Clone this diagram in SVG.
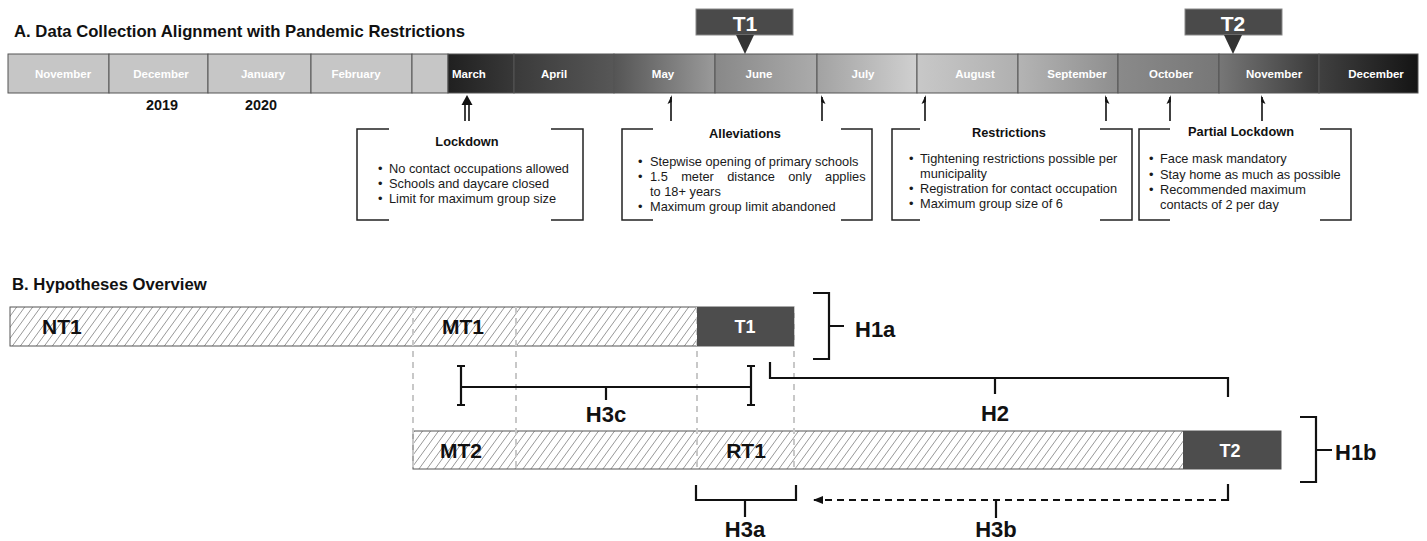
<svg xmlns="http://www.w3.org/2000/svg" width="1427" height="541" viewBox="0 0 1427 541">
<style>
text{font-family:"Liberation Sans",Arial,Helvetica,sans-serif;}
.h{font-size:16.7px;font-weight:bold;fill:#111}
.m{font-size:11.5px;font-weight:bold;fill:#fff;text-anchor:middle}
.yr{font-size:14.4px;font-weight:bold;fill:#111;text-anchor:middle}
.mk{font-size:21px;font-weight:bold;fill:#fff;text-anchor:middle}
.bt{font-size:12.8px;font-weight:bold;fill:#111;text-anchor:middle}
.b{font-size:12.8px;fill:#1a1a1a}
.lab{font-size:21px;font-weight:bold;fill:#111}
.hl{font-size:22px;font-weight:bold;fill:#111}
.wt{font-size:18px;font-weight:bold;fill:#fff;text-anchor:middle}
.c{text-anchor:middle}
.seg{stroke:#555;stroke-width:1}
.br{fill:none;stroke:#222;stroke-width:1.5}
.ar{stroke:#111;stroke-width:1.6;fill:none}
.k{fill:none;stroke:#111;stroke-width:2.2}
.dv{stroke:#c8c8c8;stroke-width:2;stroke-dasharray:6 5}
.mkbox{fill:#4a4a4a;stroke:#888;stroke-width:1}
.tri{fill:#333}
</style>
<defs>
<linearGradient id="gMar"><stop offset="0" stop-color="#202020"/><stop offset="1" stop-color="#383838"/></linearGradient>
<linearGradient id="gApr"><stop offset="0" stop-color="#3a3a3a"/><stop offset="1" stop-color="#575757"/></linearGradient>
<linearGradient id="gMay"><stop offset="0" stop-color="#555"/><stop offset="1" stop-color="#9a9a9a"/></linearGradient>
<linearGradient id="gJun"><stop offset="0" stop-color="#888"/><stop offset="1" stop-color="#ababab"/></linearGradient>
<linearGradient id="gJul"><stop offset="0" stop-color="#a2a2a2"/><stop offset="1" stop-color="#d0d0d0"/></linearGradient>
<linearGradient id="gAug"><stop offset="0" stop-color="#c8c8c8"/><stop offset="1" stop-color="#b0b0b0"/></linearGradient>
<linearGradient id="gSep"><stop offset="0" stop-color="#b4b4b4"/><stop offset="1" stop-color="#8e8e8e"/></linearGradient>
<linearGradient id="gOct"><stop offset="0" stop-color="#8a8a8a"/><stop offset="1" stop-color="#777"/></linearGradient>
<linearGradient id="gNov"><stop offset="0" stop-color="#777"/><stop offset="1" stop-color="#3a3a3a"/></linearGradient>
<linearGradient id="gDec"><stop offset="0" stop-color="#404040"/><stop offset="1" stop-color="#141414"/></linearGradient>
<pattern id="hatch" patternUnits="userSpaceOnUse" width="8" height="11"><path d="M-8,11 L0,0 M0,11 L8,0 M8,11 L16,0" stroke="#6a6a6a" stroke-width="0.7"/></pattern>
<marker id="ah" markerWidth="10" markerHeight="8" refX="9" refY="4" orient="auto" markerUnits="userSpaceOnUse"><path d="M0,0 L10,4 L0,8 Z" fill="#111"/></marker>
</defs>
<rect width="1427" height="541" fill="#fff"/>

<text class="h" x="14" y="37">A. Data Collection Alignment with Pandemic Restrictions</text>

<g id="timeline">
<rect class="seg" x="8" y="54" width="101" height="39" fill="#c6c6c6"/>
<rect class="seg" x="109" y="54" width="99" height="39" fill="#c6c6c6"/>
<rect class="seg" x="208" y="54" width="103" height="39" fill="#c6c6c6"/>
<rect class="seg" x="311" y="54" width="101" height="39" fill="#c6c6c6"/>
<rect class="seg" x="412" y="54" width="36" height="39" fill="#c6c6c6"/>
<rect class="seg" x="448" y="54" width="66" height="39" fill="url(#gMar)"/>
<rect class="seg" x="514" y="54" width="100" height="39" fill="url(#gApr)"/>
<rect class="seg" x="614" y="54" width="101" height="39" fill="url(#gMay)"/>
<rect class="seg" x="715" y="54" width="102" height="39" fill="url(#gJun)"/>
<rect class="seg" x="817" y="54" width="100" height="39" fill="url(#gJul)"/>
<rect class="seg" x="917" y="54" width="101" height="39" fill="url(#gAug)"/>
<rect class="seg" x="1018" y="54" width="100" height="39" fill="url(#gSep)"/>
<rect class="seg" x="1118" y="54" width="101" height="39" fill="url(#gOct)"/>
<rect class="seg" x="1219" y="54" width="100" height="39" fill="url(#gNov)"/>
<rect class="seg" x="1319" y="54" width="99" height="39" fill="url(#gDec)"/>
<text class="m" x="63" y="78">November</text>
<text class="m" x="161" y="78">December</text>
<text class="m" x="263" y="78">January</text>
<text class="m" x="356" y="78">February</text>
<text class="m" x="452" y="78" style="text-anchor:start">March</text>
<text class="m" x="554" y="78">April</text>
<text class="m" x="663" y="78">May</text>
<text class="m" x="759" y="78">June</text>
<text class="m" x="863" y="78">July</text>
<text class="m" x="975" y="78">August</text>
<text class="m" x="1077" y="78">September</text>
<text class="m" x="1171" y="78">October</text>
<text class="m" x="1274" y="78">November</text>
<text class="m" x="1376" y="78">December</text>
<text class="yr" x="162" y="110">2019</text>
<text class="yr" x="261" y="110">2020</text>
</g>

<g id="marker-T1">
<rect class="mkbox" x="696" y="9" width="97" height="26"/>
<path class="tri" d="M736,35 L754,35 L745,54 Z"/>
<text class="mk" x="745" y="31">T1</text>
</g>
<g id="marker-T2">
<rect class="mkbox" x="1185" y="9" width="97" height="26"/>
<path class="tri" d="M1224,35 L1242,35 L1233,54 Z"/>
<text class="mk" x="1233" y="31">T2</text>
</g>

<g id="connectors-a">
<path class="ar" d="M465,104 V121 M469,104 V121"/>
<path d="M467,95 L461.5,105 L472.5,105 Z" fill="#111"/>
<path class="ar" d="M671,121 V97"/><path d="M671.8,95 L667.5,104 L671.8,102 Z" fill="#111"/>
<path class="ar" d="M822,121 V97"/><path d="M821.2,95 L825.5,104 L821.2,102 Z" fill="#111"/>
<path class="ar" d="M925,121 V97"/><path d="M925.8,95 L921.5,104 L925.8,102 Z" fill="#111"/>
<path class="ar" d="M1106,121 V97"/><path d="M1105.2,95 L1109.5,104 L1105.2,102 Z" fill="#111"/>
<path class="ar" d="M1170,121 V97"/><path d="M1170.8,95 L1166.5,104 L1170.8,102 Z" fill="#111"/>
<path class="ar" d="M1262,121 V97"/><path d="M1261.2,95 L1265.5,104 L1261.2,102 Z" fill="#111"/>
</g>

<g id="box-lockdown">
<path class="br" d="M389,129 H357 V220 H389 M551,129 H583 V220 H551"/>
<text class="bt" x="467" y="146">Lockdown</text>
<text class="b" x="378" y="173">•</text><text class="b" x="389" y="173">No contact occupations allowed</text>
<text class="b" x="378" y="188">•</text><text class="b" x="389" y="188">Schools and daycare closed</text>
<text class="b" x="378" y="203">•</text><text class="b" x="389" y="203">Limit for maximum group size</text>
</g>

<g id="box-alleviations">
<path class="br" d="M653,129 H622 V220 H653 M841,129 H872 V220 H841"/>
<text class="bt" x="745" y="138">Alleviations</text>
<text class="b" x="638" y="166">•</text><text class="b" x="650" y="166">Stepwise opening of primary schools</text>
<text class="b" x="638" y="181">•</text><text class="b" x="650" y="181" word-spacing="9.8">1.5 meter distance only applies</text>
<text class="b" x="650" y="196">to 18+ years</text>
<text class="b" x="638" y="211">•</text><text class="b" x="650" y="211">Maximum group limit abandoned</text>
</g>

<g id="box-restrictions">
<path class="br" d="M920,129 H892 V220 H920 M1100,129 H1132 V220 H1100"/>
<text class="bt" x="1009" y="137">Restrictions</text>
<text class="b" x="909" y="163">•</text><text class="b" x="920" y="163">Tightening restrictions possible per</text>
<text class="b" x="920" y="178">municipality</text>
<text class="b" x="909" y="193">•</text><text class="b" x="920" y="193">Registration for contact occupation</text>
<text class="b" x="909" y="208">•</text><text class="b" x="920" y="208">Maximum group size of 6</text>
</g>

<g id="box-partial-lockdown">
<path class="br" d="M1170,129 H1139 V220 H1170 M1320,129 H1351 V220 H1320"/>
<text class="bt" x="1241" y="136">Partial Lockdown</text>
<text class="b" x="1149" y="163">•</text><text class="b" x="1160" y="163">Face mask mandatory</text>
<text class="b" x="1149" y="179">•</text><text class="b" x="1160" y="179">Stay home as much as possible</text>
<text class="b" x="1149" y="194">•</text><text class="b" x="1160" y="194">Recommended maximum</text>
<text class="b" x="1160" y="209">contacts of 2 per day</text>
</g>

<text class="h" x="12" y="290">B. Hypotheses Overview</text>

<g id="bar-top">
<rect x="10" y="307" width="784" height="39" fill="url(#hatch)" stroke="#555" stroke-width="1"/>
</g>
<g id="bar-bottom">
<rect x="413" y="431" width="868" height="38" fill="url(#hatch)" stroke="#555" stroke-width="1"/>
</g>
<g id="guides">
<path class="dv" d="M413,307 V469 M516,307 V469 M697,307 V469 M794,307 V469"/>
</g>
<g id="node-T1">
<rect x="697" y="307" width="97" height="39" fill="#4d4d4d"/>
<text class="wt" x="745" y="333">T1</text>
</g>
<g id="node-T2">
<rect x="1183" y="431" width="98" height="38" fill="#4d4d4d"/>
<text class="wt" x="1230" y="457">T2</text>
</g>
<g id="labels-b">
<text class="lab" x="42" y="334">NT1</text>
<text class="lab" x="442" y="334">MT1</text>
<text class="lab" x="440" y="458">MT2</text>
<text class="lab c" x="746" y="458">RT1</text>
</g>

<g id="connectors-b">
<path class="k" d="M813,293 H829 V359 H813 M829,326 H844"/>
<path class="k" d="M770,362 V378 H1228 V397 M995,378 V394"/>
<path class="k" d="M461,366 V405 M457,366 H465 M457,405 H465 M461,387 H751 M751,366 V405 M747,366 H755 M747,405 H755 M606,387 V400"/>
<path class="k" d="M1300,417 H1316 V482 H1300 M1316,450 H1332"/>
<path class="k" d="M696,485 V500 H796 V485 M745,500 V517"/>
<path class="k" d="M1228,500 H814" stroke-dasharray="7 5" marker-end="url(#ah)"/>
<path class="k" d="M1228,484 V501 M996,500 V518"/>
</g>
<g id="hyp-labels">
<text class="hl" x="855" y="337">H1a</text>
<text class="hl c" x="995" y="421">H2</text>
<text class="hl c" x="606" y="422">H3c</text>
<text class="hl" x="1335" y="460">H1b</text>
<text class="hl c" x="745" y="537">H3a</text>
<text class="hl c" x="996" y="537">H3b</text>
</g>
</svg>
